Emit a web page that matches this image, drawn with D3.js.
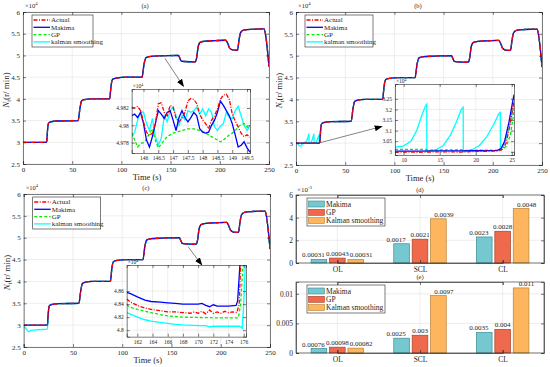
<!DOCTYPE html>
<html>
<head>
<meta charset="utf-8">
<script src="https://cdn.jsdelivr.net/npm/d3@7/dist/d3.min.js"></script>
<style>
body { margin: 0; background: #fff; }
text { font-family: "Liberation Serif", "DejaVu Serif", serif; fill: #262626; }
</style>
</head>
<body>
<div id="demo"></div>
<script>
// ---- data: speed in x10^4 r/min, time in s ----
var actualMain = [[0,3.0],[24,3.0],[25,3.3],[26,3.44],[28,3.47],[35,3.49],[56,3.5],[58,3.8],[59.5,3.95],[62,3.98],[70,4.0],[88,4.0],[89.5,4.3],[91,4.45],[95,4.48],[105,4.5],[121,4.5],[123,4.8],[125,4.95],[130,4.98],[140,4.99],[158,5.0],[159.5,4.93],[161,4.87],[164,4.86],[175,4.85],[176.5,4.95],[178,5.2],[180,5.3],[185,5.33],[195,5.34],[206,5.35],[208,5.28],[210,5.17],[213,5.13],[218,5.12],[219.5,5.35],[221,5.52],[224,5.58],[232,5.6],[245,5.61],[247,5.4],[250,4.74]];
var kalmanEarlyB = [[0,3.0],[2,2.98],[4,2.93],[5.5,2.95],[7,2.99],[9,3.02],[11,3.06],[12.3,3.15],[13.2,3.22],[13.3,3.0],[15.5,3.03],[17.3,3.14],[18.3,3.21],[18.4,3.0],[20.5,3.03],[22.4,3.13],[23.4,3.19],[23.5,3.01],[24.2,3.05],[25,3.2]];
var kalmanEarlyC = [[0,2.97],[2,2.93],[4,2.87],[5,2.85],[6.5,2.87],[9,2.885],[14,2.895],[20,2.9],[24,2.91],[25,3.2]];

// inset (a)
var insetTimeA = [145.6,145.7,145.8,145.9,146.0,146.1,146.2,146.3,146.4,146.5,146.6,146.7,146.8,146.9,147.0,147.1,147.2,147.3,147.4,147.5,147.6,147.7,147.8,147.9,148.0,148.1,148.2,148.3,148.4,148.5,148.6,148.7,148.8,148.9,149.0,149.1,149.2,149.3,149.4,149.5,149.6];
var insetActualA = [4.9821,4.9820,4.9822,4.9817,4.9804,4.9792,4.9788,4.9791,4.9802,4.9825,4.9826,4.9815,4.9811,4.9823,4.9821,4.9808,4.9804,4.9808,4.9815,4.9828,4.9831,4.9830,4.9825,4.9813,4.9806,4.9802,4.9796,4.9806,4.9811,4.9819,4.9830,4.9835,4.9836,4.9830,4.9813,4.9805,4.9798,4.9791,4.9787,4.9789,4.9786];
var insetMakimaA = [4.9811,4.9813,4.9809,4.9815,4.9802,4.9783,4.9775,4.9787,4.9802,4.9817,4.9813,4.9808,4.9815,4.9817,4.9806,4.9794,4.9809,4.9817,4.9809,4.9804,4.9809,4.9815,4.9811,4.9796,4.9792,4.9791,4.9792,4.9800,4.9806,4.9815,4.9828,4.9823,4.9817,4.9811,4.9802,4.9789,4.9775,4.9777,4.9781,4.9774,4.9769];
var insetGPA = [4.9791,4.9783,4.9775,4.9779,4.9780,4.9784,4.9791,4.9796,4.9783,4.9774,4.9778,4.9783,4.9787,4.9789,4.9791,4.9792,4.9793,4.9794,4.9795,4.9796,4.9796,4.9796,4.9795,4.9794,4.9793,4.9791,4.9789,4.9787,4.9785,4.9783,4.9781,4.9783,4.9786,4.9789,4.9791,4.9794,4.9798,4.9801,4.9802,4.9798,4.9796];
var insetKalmanA = [4.9787,4.9792,4.9806,4.9816,4.9815,4.9802,4.9794,4.9808,4.9787,4.9777,4.9785,4.9811,4.9804,4.9817,4.9821,4.9811,4.9800,4.9811,4.9806,4.9817,4.9815,4.9817,4.9821,4.9813,4.9819,4.9811,4.9819,4.9815,4.9798,4.9794,4.9799,4.9802,4.9815,4.9809,4.9808,4.9817,4.9822,4.9811,4.9800,4.9794,4.9800];

// inset (b)
var insetActualB = [[8.8,2.999],[12,2.998],[15,3.0],[18,2.999],[20,3.002],[22,3.003],[23,3.004],[23.6,3.01],[24.2,3.04],[24.7,3.12],[25.3,3.24]];
var insetMakimaB = [[8.8,3.003],[12,3.003],[15,3.004],[18,3.004],[20,3.005],[22,3.006],[23,3.007],[23.5,3.015],[24.0,3.05],[24.6,3.14],[25.3,3.27]];
var insetGPB = [[8.8,3.012],[13,3.012],[13.3,3.008],[18,3.01],[18.3,3.007],[21,3.008],[23,3.008],[23.8,3.012],[24.3,3.03],[24.8,3.08],[25.3,3.19]];
var insetKalmanB = [[8.8,3.022],[10,3.028],[11,3.05],[11.8,3.1],[12.5,3.17],[13.0,3.215],[13.2,3.225],[13.22,3.002],[14.5,3.01],[15.5,3.03],[16.5,3.08],[17.3,3.14],[18.0,3.2],[18.25,3.21],[18.27,3.0],[19.5,3.01],[20.5,3.03],[21.5,3.07],[22.5,3.13],[23.2,3.18],[23.4,3.186],[23.42,3.01],[24,3.04],[24.6,3.11],[25.3,3.22]];

// inset (c)
var insetActualC = [[160.6,4.848],[161.1,4.843],[162,4.838],[163,4.834],[163.8,4.832],[165,4.830],[166,4.828],[167,4.828],[168,4.827],[169,4.826],[169.5,4.828],[170,4.826],[170.5,4.829],[171,4.825],[171.5,4.831],[172,4.826],[172.5,4.828],[173,4.826],[173.5,4.829],[174,4.827],[174.5,4.828],[175.1,4.827],[175.4,4.84],[175.6,4.9]];
var insetMakimaC = [[160.6,4.858],[161.1,4.856],[162,4.851],[163,4.846],[163.8,4.844],[165,4.843],[166,4.842],[167,4.841],[168,4.840],[169,4.840],[170,4.840],[170.5,4.841],[171,4.838],[171.5,4.836],[172,4.839],[172.5,4.837],[173,4.837],[174,4.837],[175,4.838],[175.2,4.845],[175.5,4.9]];
var insetGPC = [[160.6,4.839],[161.1,4.835],[162,4.832],[163,4.829],[163.8,4.827],[165,4.824],[166,4.822],[167,4.821],[168,4.820],[170,4.8195],[172,4.819],[174,4.819],[175.3,4.819],[175.6,4.84],[175.9,4.9]];
var insetKalmanC = [[160.6,4.827],[161.1,4.8245],[162,4.820],[163,4.816],[163.8,4.814],[165,4.812],[166,4.8105],[167,4.809],[168,4.808],[170,4.807],[171,4.807],[171.5,4.805],[172,4.806],[173,4.806],[174,4.806],[175.5,4.806],[175.8,4.803],[176.0,4.84],[176.2,4.9]];

// bar charts
var categories = ["OL", "SCL", "CL"];
var methods = ["Makima", "GP", "Kalman smoothing"];
var errD = { Makima: [0.00031, 0.0017, 0.0023], GP: [0.00043, 0.0021, 0.0028], "Kalman smoothing": [0.00031, 0.0039, 0.0048] };
var labelsD = { Makima: ["0.00031", "0.0017", "0.0023"], GP: ["0.00043", "0.0021", "0.0028"], "Kalman smoothing": ["0.00031", "0.0039", "0.0048"] };
var errE = { Makima: [0.00076, 0.0025, 0.0035], GP: [0.00098, 0.003, 0.004], "Kalman smoothing": [0.00082, 0.0097, 0.011] };
var labelsE = { Makima: ["0.00076", "0.0025", "0.0035"], GP: ["0.00098", "0.003", "0.004"], "Kalman smoothing": ["0.00082", "0.0097", "0.011"] };

var lineNames = ["Actual", "Makima", "GP", "kalman smoothing"];

// ---- styles ----
var styles = {
  "Actual": { color: "#ff0000", dash: "4,1.5,1,1.5", width: 1.3 },
  "Makima": { color: "#0000ff", dash: null, width: 1.3 },
  "GP": { color: "#00ee00", dash: "3,2", width: 1.3 },
  "kalman smoothing": { color: "#00ffff", dash: null, width: 1.3 }
};
var barFill = { "Makima": "#76c8d0", "GP": "#ef6a4c", "Kalman smoothing": "#fdb65e" };
var barStroke = { "Makima": "#3b8e95", "GP": "#a6412b", "Kalman smoothing": "#b98032" };
// value labels of the outer bars sit a little outward
var labelNudge = { "Makima": -5.5, "GP": 0, "Kalman smoothing": 5.5 };

var svg = d3.select("#demo").append("svg").attr("width", 550).attr("height", 367);

// arrow head
svg.append("defs").append("marker")
  .attr("id", "arrow").attr("viewBox", "0 0 8 6").attr("refX", 7).attr("refY", 3)
  .attr("markerWidth", 8).attr("markerHeight", 6).attr("markerUnits", "userSpaceOnUse")
  .attr("orient", "auto")
  .append("path").attr("d", "M0,0 L8,3 L0,6 Z").attr("fill", "#000");

var clipCount = 0;

function styleAxis(a, fs) {
  a.attr("font-family", null).attr("font-size", fs);
  a.select(".domain").attr("stroke", "#262626").attr("stroke-width", 0.6);
  a.selectAll(".tick line").attr("stroke", "#262626").attr("stroke-width", 0.6);
  a.selectAll(".tick text").attr("fill", "#262626");
}

// axes frame: grid, ticks, labels
function drawFrame(g, x, y, xTicks, yTicks, fs, xFmt, yFmt, drawLayer) {
  var xr = x.range(), yr = y.range();
  g.append("rect").attr("x", xr[0]).attr("y", yr[1]).attr("width", xr[1] - xr[0]).attr("height", yr[0] - yr[1]).attr("fill", "#fff");
  g.selectAll(".gx").data(xTicks).enter().append("line")
    .attr("x1", function(d) { return x(d); }).attr("x2", function(d) { return x(d); })
    .attr("y1", yr[0]).attr("y2", yr[1]).attr("stroke", "#e2e2e2").attr("stroke-width", 0.6);
  g.selectAll(".gy").data(yTicks).enter().append("line")
    .attr("y1", function(d) { return y(d); }).attr("y2", function(d) { return y(d); })
    .attr("x1", xr[0]).attr("x2", xr[1]).attr("stroke", "#e2e2e2").attr("stroke-width", 0.6);

  drawLayer(g);

  styleAxis(g.append("g").attr("transform", "translate(0," + yr[0] + ")").call(d3.axisBottom(x).tickValues(xTicks).tickSize(-3).tickPadding(3).tickFormat(xFmt)), fs);
  styleAxis(g.append("g").attr("transform", "translate(0," + yr[1] + ")").call(d3.axisTop(x).tickValues(xTicks).tickSize(-3).tickFormat("")), fs);
  styleAxis(g.append("g").attr("transform", "translate(" + xr[0] + ",0)").call(d3.axisLeft(y).tickValues(yTicks).tickSize(-3).tickPadding(3).tickFormat(yFmt)), fs);
  styleAxis(g.append("g").attr("transform", "translate(" + xr[1] + ",0)").call(d3.axisRight(y).tickValues(yTicks).tickSize(-3).tickFormat("")), fs);
}

function drawLines(g, x, y, series, curve) {
  var id = "clip" + (clipCount++);
  var xr = x.range(), yr = y.range();
  svg.select("defs").append("clipPath").attr("id", id).append("rect")
    .attr("x", xr[0]).attr("y", yr[1]).attr("width", xr[1] - xr[0]).attr("height", yr[0] - yr[1]);
  var line = d3.line().x(function(d) { return x(d[0]); }).y(function(d) { return y(d[1]); }).curve(curve);
  var lg = g.append("g").attr("clip-path", "url(#" + id + ")");
  series.forEach(function(s) {
    var st = styles[s.name];
    lg.append("path").datum(s.data).attr("d", line)
      .attr("fill", "none").attr("stroke", st.color).attr("stroke-width", st.width)
      .attr("stroke-dasharray", st.dash);
  });
}

function expLabel(g, px, py, base, exp, fs) {
  var t = g.append("text").attr("x", px).attr("y", py).attr("font-size", fs);
  t.append("tspan").text(base);
  t.append("tspan").attr("dy", -fs * 0.4).attr("font-size", fs * 0.7).text(exp);
}

function lineLegend(g, lx, ly, w) {
  g.append("rect").attr("x", lx).attr("y", ly).attr("width", w).attr("height", 32)
    .attr("fill", "#fff").attr("stroke", "#262626").attr("stroke-width", 0.6);
  lineNames.forEach(function(n, i) {
    var st = styles[n], yy = ly + 5 + i * 7.3;
    g.append("line").attr("x1", lx + 1.5).attr("x2", lx + 18).attr("y1", yy).attr("y2", yy)
      .attr("stroke", st.color).attr("stroke-width", st.width).attr("stroke-dasharray", st.dash);
    g.append("text").attr("x", lx + 19).attr("y", yy + 2.4).attr("font-size", 7).text(n);
  });
}

function merge(early, tStart) {
  return early.concat(actualMain.filter(function(d) { return d[0] >= tStart; }));
}

function pairs(ts, vs) {
  return ts.map(function(t, i) { return [t, vs[i]]; });
}

// main time series panel
function mainPanel(box, kalmanData, title, legendW) {
  var g = svg.append("g");
  var x = d3.scaleLinear().domain([0, 250]).range([box.x0, box.x1]);
  var y = d3.scaleLinear().domain([2.5, 6]).range([box.y1, box.y0]);
  drawFrame(g, x, y, [0, 50, 100, 150, 200, 250], [2.5, 3, 3.5, 4, 4.5, 5, 5.5, 6], 7,
    d3.format("~g"), d3.format("~g"), function(layer) {
      drawLines(layer, x, y, [
        { name: "kalman smoothing", data: kalmanData },
        { name: "GP", data: actualMain },
        { name: "Makima", data: actualMain },
        { name: "Actual", data: actualMain }
      ], d3.curveMonotoneX);
    });
  expLabel(g, box.x0 + 2, box.y0 - 4, "\u00d710", "4", 6.5);
  g.append("text").attr("x", (box.x0 + box.x1) / 2 - 1).attr("y", box.y0 - 4).attr("text-anchor", "middle").attr("font-size", 6.5).text(title);
  g.append("text").attr("x", (box.x0 + box.x1) / 2 + 1).attr("y", box.y1 + 16).attr("text-anchor", "middle").attr("font-size", 8.5).text("Time (s)");
  var yl = g.append("text").attr("transform", "translate(" + (box.x0 - 14) + "," + ((box.y0 + box.y1) / 2 + 2) + ") rotate(-90)")
    .attr("text-anchor", "middle").attr("font-size", 9);
  yl.append("tspan").attr("font-style", "italic").text("N");
  yl.append("tspan").attr("dy", 2).attr("font-size", 6.5).text("t");
  yl.append("tspan").attr("dy", -2).text("(r/ min)");
  lineLegend(g, box.x0 + 9, box.y0 + 3, legendW);
  return { x: x, y: y };
}

function insetPanel(box, xd, yd, xTicks, yTicks, series, yFmt) {
  var g = svg.append("g");
  var x = d3.scaleLinear().domain(xd).range([box.x0, box.x1]);
  var y = d3.scaleLinear().domain(yd).range([box.y1, box.y0]);
  drawFrame(g, x, y, xTicks, yTicks, 5.5, d3.format("~g"), yFmt, function(layer) {
    drawLines(layer, x, y, series, d3.curveLinear);
  });
  expLabel(g, box.x0 + 1, box.y0 - 1, "\u00d710", "4", 5.5);
}

function arrow(p, from, to) {
  svg.append("line")
    .attr("x1", p.x(from[0])).attr("y1", p.y(from[1]))
    .attr("x2", p.x(to[0])).attr("y2", p.y(to[1]))
    .attr("stroke", "#333").attr("stroke-width", 0.6).attr("marker-end", "url(#arrow)");
}

// ---- (a) ----
var pa = mainPanel({ x0: 23, x1: 269, y0: 12, y1: 164 }, actualMain, "(a)", 61);
arrow(pa, [144.3, 4.93], [163, 4.29]);
insetPanel({ x0: 131.7, x1: 250, y0: 89, y1: 153 }, [145.6, 149.6], [4.9768, 4.9842],
  [146, 146.5, 147, 147.5, 148, 148.5, 149, 149.5], [4.978, 4.98, 4.982], [
    { name: "kalman smoothing", data: pairs(insetTimeA, insetKalmanA) },
    { name: "GP", data: pairs(insetTimeA, insetGPA) },
    { name: "Makima", data: pairs(insetTimeA, insetMakimaA) },
    { name: "Actual", data: pairs(insetTimeA, insetActualA) }
  ], d3.format("~g"));

// ---- (b) ----
var pb = mainPanel({ x0: 296, x1: 542, y0: 12, y1: 165 }, merge(kalmanEarlyB, 26), "(b)", 68);
arrow(pb, [24.4, 3.01], [87.1, 3.38]);
insetPanel({ x0: 395, x1: 514, y0: 84, y1: 155 }, [8.8, 25.3], [2.985, 3.32],
  [10, 15, 20, 25], [3, 3.05, 3.1, 3.15, 3.2, 3.25], [
    { name: "kalman smoothing", data: insetKalmanB },
    { name: "GP", data: insetGPB },
    { name: "Makima", data: insetMakimaB },
    { name: "Actual", data: insetActualB }
  ], d3.format("~g"));

// ---- (c) ----
var pc = mainPanel({ x0: 23.7, x1: 270, y0: 194, y1: 347 }, merge(kalmanEarlyC, 26), "(c)", 68);
arrow(pc, [167, 4.79], [180.7, 4.38]);
insetPanel({ x0: 126.7, x1: 246, y0: 265, y1: 336.7 }, [160.6, 176.3], [4.79, 4.9],
  [162, 164, 166, 168, 170, 172, 174, 176], [4.8, 4.82, 4.84, 4.86], [
    { name: "kalman smoothing", data: insetKalmanC },
    { name: "GP", data: insetGPC },
    { name: "Makima", data: insetMakimaC },
    { name: "Actual", data: insetActualC }
  ], d3.format("~g"));

// ---- bar panels ----
function barPanel(box, ymax, yTicks, yFmt, errs, labels, title, expo) {
  var g = svg.append("g");
  var x = d3.scaleBand().domain(categories).range([box.x0, box.x1]);
  var xs = d3.scaleBand().domain(methods).range([-29, 29]).paddingInner(0.15).paddingOuter(0.15);
  var y = d3.scaleLinear().domain([0, ymax]).range([box.y1, box.y0]);
  var xc = d3.scalePoint().domain(categories).range([box.x0 + x.bandwidth() / 2, box.x1 - x.bandwidth() / 2]);

  g.append("rect").attr("x", box.x0).attr("y", box.y0).attr("width", box.x1 - box.x0).attr("height", box.y1 - box.y0).attr("fill", "#fff");
  categories.forEach(function(c) {
    g.append("line").attr("x1", xc(c)).attr("x2", xc(c)).attr("y1", box.y0).attr("y2", box.y1).attr("stroke", "#e2e2e2").attr("stroke-width", 0.6);
  });
  yTicks.forEach(function(t) {
    g.append("line").attr("x1", box.x0).attr("x2", box.x1).attr("y1", y(t)).attr("y2", y(t)).attr("stroke", "#e2e2e2").attr("stroke-width", 0.6);
  });

  methods.forEach(function(m) {
    var gg = g.append("g");
    gg.selectAll("rect").data(errs[m]).enter().append("rect")
      .attr("x", function(d, i) { return xc(categories[i]) + xs(m); })
      .attr("y", function(d) { return y(d); })
      .attr("width", xs.bandwidth())
      .attr("height", function(d) { return y(0) - y(d); })
      .attr("fill", barFill[m]).attr("stroke", barStroke[m]).attr("stroke-width", 0.7);
    gg.selectAll("text").data(errs[m]).enter().append("text")
      .attr("x", function(d, i) { return xc(categories[i]) + xs(m) + xs.bandwidth() / 2 + labelNudge[m]; })
      .attr("y", function(d) { return y(d) - 2; })
      .attr("text-anchor", "middle").attr("font-size", 7)
      .text(function(d, i) { return labels[m][i]; });
  });

  styleAxis(g.append("g").attr("transform", "translate(0," + box.y1 + ")").call(d3.axisBottom(xc).tickSize(-3).tickPadding(4)), 7.5);
  styleAxis(g.append("g").attr("transform", "translate(0," + box.y0 + ")").call(d3.axisTop(xc).tickSize(-3).tickFormat("")), 7.5);
  styleAxis(g.append("g").attr("transform", "translate(" + box.x0 + ",0)").call(d3.axisLeft(y).tickValues(yTicks).tickSize(-3).tickPadding(3).tickFormat(yFmt)), 7.5);
  styleAxis(g.append("g").attr("transform", "translate(" + box.x1 + ",0)").call(d3.axisRight(y).tickValues(yTicks).tickSize(-3).tickFormat("")), 7.5);
  // the point scale stops at the category centres, so close the box by hand
  g.append("rect").attr("x", box.x0).attr("y", box.y0).attr("width", box.x1 - box.x0).attr("height", box.y1 - box.y0)
    .attr("fill", "none").attr("stroke", "#262626").attr("stroke-width", 0.6);

  if (expo) expLabel(g, box.x0 + 1, box.y0 - 3, "\u00d710", expo, 7);
  g.append("text").attr("x", (box.x0 + box.x1) / 2).attr("y", box.y0 - 3).attr("text-anchor", "middle").attr("font-size", 6.5).text(title);

  // legend
  var lx = box.x0 + 11, ly = box.y0 + 3;
  g.append("rect").attr("x", lx).attr("y", ly).attr("width", 78).attr("height", 28)
    .attr("fill", "#fff").attr("stroke", "#262626").attr("stroke-width", 0.6);
  methods.forEach(function(m, i) {
    var yy = ly + 3 + i * 8.3;
    g.append("rect").attr("x", lx + 1.5).attr("y", yy).attr("width", 16).attr("height", 6)
      .attr("fill", barFill[m]).attr("stroke", barStroke[m]).attr("stroke-width", 0.6);
    g.append("text").attr("x", lx + 19).attr("y", yy + 5.5).attr("font-size", 7.5).text(m);
  });
}

barPanel({ x0: 296, x1: 544, y0: 195, y1: 263 }, 0.006, [0, 0.002, 0.004, 0.006],
  function(d) { return d3.format("~g")(d * 1000); }, errD, labelsD, "(d)", "-3");
barPanel({ x0: 296, x1: 544, y0: 282, y1: 353 }, 0.012, [0, 0.005, 0.01],
  d3.format("~g"), errE, labelsE, "(e)", null);
</script>
</body>
</html>
